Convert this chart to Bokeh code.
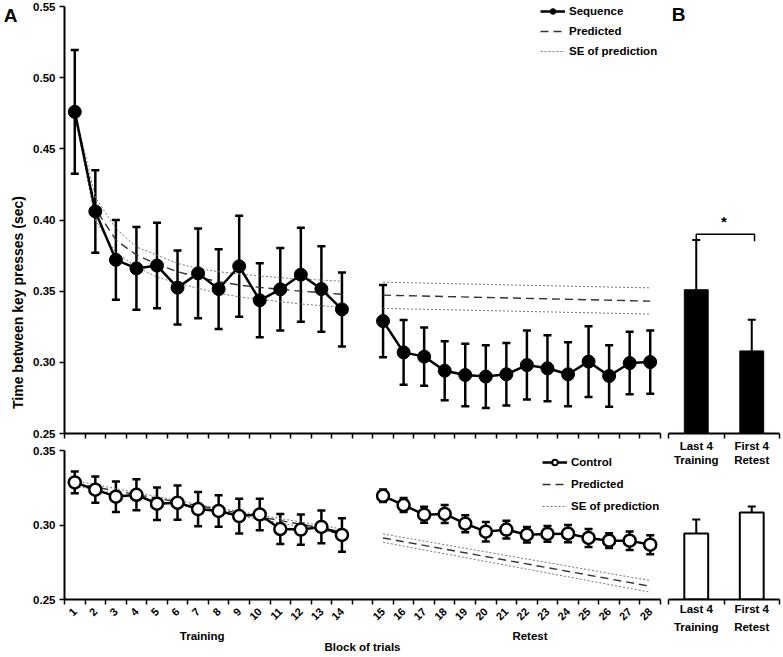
import math
from bokeh.plotting import figure
from bokeh.models import (Range1d, FixedTicker, NumeralTickFormatter, Whisker, TeeHead,
                          ColumnDataSource, Label, Legend, LegendItem, LinearAxis)
from bokeh.layouts import row, column
from bokeh.embed import file_html
from bokeh.resources import INLINE

# ---------------- data ----------------
blocks = list(range(1, 29))
train_blocks = list(range(1, 15))
retest_blocks = list(range(15, 29))

seq_mean = [0.476, 0.406, 0.372, 0.366, 0.368, 0.3525, 0.3625, 0.3515, 0.3675, 0.3436,
            0.3513, 0.3616, 0.3515, 0.3372,
            0.329, 0.307, 0.304, 0.2941, 0.2911, 0.290, 0.2916, 0.2981, 0.2958, 0.2916,
            0.3005, 0.2904, 0.2995, 0.3002]
seq_err = [0.0435, 0.029, 0.028, 0.029, 0.030, 0.026, 0.0315, 0.028, 0.0355, 0.026,
           0.029, 0.033, 0.030, 0.026,
           0.0254, 0.0228, 0.0205, 0.0207, 0.0219, 0.022, 0.0219, 0.0243, 0.0232, 0.0225,
           0.0249, 0.0216, 0.0219, 0.0222]

ctl_mean = [0.3286, 0.3237, 0.319, 0.3203, 0.3143, 0.315, 0.3107, 0.3094, 0.306, 0.3071,
            0.2973, 0.2969, 0.2987, 0.2933,
            0.3196, 0.3134, 0.3069, 0.3074, 0.3009, 0.2955, 0.2969, 0.2935, 0.294, 0.2942,
            0.2913, 0.2895, 0.2895, 0.2868]
ctl_err = [0.0073, 0.0088, 0.0102, 0.0104, 0.0109, 0.0115, 0.0115, 0.0106, 0.0117, 0.0106,
           0.0101, 0.0101, 0.011, 0.0112,
           0.0042, 0.0047, 0.0054, 0.006, 0.0057, 0.0065, 0.006, 0.0052, 0.0053, 0.0058,
           0.006, 0.005, 0.0062, 0.0064]

# Sequence: predicted curve (training) and its SE band
seq_pred_train = [0.476, 0.408, 0.386, 0.3754, 0.369, 0.3637, 0.3597, 0.3567, 0.3543, 0.3527,
                  0.3513, 0.3500, 0.3490, 0.3478]
seq_pred_train_hi = [0.477, 0.416, 0.394, 0.381, 0.3754, 0.3695, 0.366, 0.3637, 0.362, 0.3607,
                     0.3595, 0.3585, 0.3578, 0.357]
seq_pred_train_lo = [0.475, 0.400, 0.377, 0.367, 0.360, 0.3555, 0.352, 0.3485, 0.346, 0.3443,
                     0.3426, 0.341, 0.3398, 0.3387]
# Sequence: predicted (retest) at first and last retest block
seq_pred_ret_blocks = [15, 28]
seq_pred_ret = [0.3472, 0.3430]
seq_pred_ret_hi = [0.3563, 0.3523]
seq_pred_ret_lo = [0.3379, 0.3339]

# Control: predicted line (training)
ctl_pred_tr_blocks = [1, 14]
ctl_pred_tr = [0.3279, 0.2955]
ctl_se_tr_blocks = [1, 7, 14]
ctl_pred_tr_hi = [0.3297, 0.3138, 0.2973]
ctl_pred_tr_lo = [0.3261, 0.3112, 0.2940]
# Control: predicted line (retest)
ctl_pred_ret_blocks = [15, 28]
ctl_pred_ret = [0.2913, 0.2589]
ctl_pred_ret_hi = [0.2940, 0.2627]
ctl_pred_ret_lo = [0.2884, 0.2549]

# Panel B
b_labels_top = ["Last 4", "First 4"]
b_labels_bottom = ["Training", "Retest"]
b_seq = [0.351, 0.308]
b_seq_upper = [0.386, 0.330]
b_ctl = [0.2943, 0.3084]
b_ctl_upper = [0.3037, 0.3124]
bracket_y = [0.385, 0.390, 0.390, 0.385]

top_yticks = [0.25, 0.30, 0.35, 0.40, 0.45, 0.50, 0.55]
bot_yticks = [0.25, 0.30, 0.35]
group_labels = ["Training", "Retest"]
group_centers = [7.2, 23.15]

FONT = "Liberation Sans"


def pos(b):
    # one empty slot between the training and retest blocks
    return b if b <= 14 else b + 1


def make_fig(fw, fh, xr, yr, bl, br, bt, bb, **kw):
    p = figure(frame_width=fw, frame_height=fh, x_range=xr, y_range=yr,
               min_border_left=bl, min_border_right=br, min_border_top=bt, min_border_bottom=bb,
               toolbar_location=None, output_backend="svg", outline_line_color=None,
               background_fill_color="white", border_fill_color="white", **kw)
    p.grid.grid_line_color = None
    return p


def style_yaxis(p, ticks):
    ax = p.yaxis[0]
    ax.ticker = FixedTicker(ticks=ticks)
    ax.formatter = NumeralTickFormatter(format="0.00")
    ax.axis_line_width = 2
    ax.axis_line_color = "black"
    ax.major_tick_out = 5
    ax.major_tick_in = 0
    ax.major_tick_line_width = 1.5
    ax.minor_tick_out = 0
    ax.minor_tick_in = 0
    ax.major_label_text_font = FONT
    ax.major_label_text_font_style = "bold"
    ax.major_label_text_font_size = "11.5px"
    ax.major_label_text_color = "black"
    ax.major_label_standoff = 4


def style_xaxis(ax, major, minor, overrides=None, standoff=0, size="11.5px"):
    ax.ticker = FixedTicker(ticks=major, minor_ticks=minor)
    ax.axis_line_width = 2
    ax.axis_line_color = "black"
    ax.major_tick_out = 0
    ax.major_tick_in = 0
    ax.minor_tick_out = 5
    ax.minor_tick_in = 0
    ax.minor_tick_line_width = 1.5
    ax.minor_tick_line_color = "black"
    ax.major_label_text_font = FONT
    ax.major_label_text_font_style = "bold"
    ax.major_label_text_font_size = size
    ax.major_label_text_color = "black"
    ax.major_label_standoff = standoff
    if overrides:
        ax.major_label_overrides = overrides


def text_axis(p, ticks, labels, standoff, axis_label=None, label_standoff=0):
    ax = LinearAxis(ticker=FixedTicker(ticks=ticks, minor_ticks=[]),
                    major_label_overrides={t: s for t, s in zip(ticks, labels)},
                    axis_line_color=None, major_tick_line_color=None,
                    minor_tick_line_color=None, major_tick_out=0, major_tick_in=0,
                    minor_tick_out=0, minor_tick_in=0,
                    major_label_standoff=standoff,
                    major_label_text_font=FONT, major_label_text_font_style="bold",
                    major_label_text_font_size="11.5px", major_label_text_color="black")
    if axis_label:
        ax.axis_label = axis_label
        ax.axis_label_standoff = label_standoff
        ax.axis_label_text_font = FONT
        ax.axis_label_text_font_style = "bold"
        ax.axis_label_text_font_size = "11.5px"
        ax.axis_label_text_color = "black"
    p.add_layout(ax, "below")
    return ax


# layout geometry (pixels)
FW_A, FW_B = 596, 111
FH_TOP, FH_BOT = 427, 149
FH_B_BOT = 129

# ---------------- left strip: panel letter and y-axis title ----------------
strip = figure(width=26, height=657, x_range=Range1d(0, 26), y_range=Range1d(657, 0),
               x_axis_type=None, y_axis_type=None, toolbar_location=None,
               output_backend="svg", outline_line_color=None,
               min_border_left=0, min_border_right=0, min_border_top=0, min_border_bottom=0)
strip.grid.grid_line_color = None
strip.add_layout(Label(x=10, y=14.5, text="A", text_font=FONT, text_font_style="bold",
                       text_font_size="19px", text_align="center", text_baseline="middle",
                       text_color="black"))
strip.add_layout(Label(x=17, y=302, text="Time between key presses (sec)", angle=math.pi / 2,
                       text_font=FONT, text_font_style="bold", text_font_size="14px",
                       text_align="center", text_baseline="middle", text_color="black"))

# ---------------- Panel A, top (Sequence) ----------------
a_top = make_fig(FW_A, FH_TOP, Range1d(0.5, 29.5), Range1d(0.25, 0.55), 38, 7, 6, 7)
style_yaxis(a_top, top_yticks)
style_xaxis(a_top.xaxis[0], [], [i + 0.5 for i in range(0, 30)])

tr_x = [pos(b) for b in train_blocks]
rt_x = [pos(b) for b in retest_blocks]
n_tr = len(train_blocks)

seq_src = ColumnDataSource(dict(x=[pos(b) for b in blocks], y=seq_mean,
                                upper=[m + e for m, e in zip(seq_mean, seq_err)],
                                lower=[m - e for m, e in zip(seq_mean, seq_err)]))
a_top.add_layout(Whisker(source=seq_src, base="x", upper="upper", lower="lower",
                         line_width=2.5, line_color="black",
                         upper_head=TeeHead(size=8, line_width=2.5, line_color="black"),
                         lower_head=TeeHead(size=8, line_width=2.5, line_color="black")))

pred_tr = a_top.line(tr_x, seq_pred_train, line_color="#333333", line_width=1.4, line_dash="8 5")
se_hi_tr = a_top.line(tr_x, seq_pred_train_hi, line_color="#777777", line_width=1, line_dash="2 2")
a_top.line(tr_x, seq_pred_train_lo, line_color="#777777", line_width=1, line_dash="2 2")
pr_x = [pos(b) for b in seq_pred_ret_blocks]
a_top.line(pr_x, seq_pred_ret, line_color="#333333", line_width=1.4, line_dash="8 5")
a_top.line(pr_x, seq_pred_ret_hi, line_color="#777777", line_width=1, line_dash="2 2")
a_top.line(pr_x, seq_pred_ret_lo, line_color="#777777", line_width=1, line_dash="2 2")

seq_line_tr = a_top.line(tr_x, seq_mean[:n_tr], line_color="black", line_width=2.5)
a_top.line(rt_x, seq_mean[n_tr:], line_color="black", line_width=2.5)
seq_leg_dot = a_top.scatter(tr_x, seq_mean[:n_tr], size=9, marker="circle",
                            fill_color="black", line_color="black")
a_top.scatter([pos(b) for b in blocks], seq_mean, size=13, marker="circle",
              fill_color="black", line_color="black")

leg_top = Legend(items=[LegendItem(label="Sequence", renderers=[seq_line_tr, seq_leg_dot]),
                        LegendItem(label="Predicted", renderers=[pred_tr]),
                        LegendItem(label="SE of prediction", renderers=[se_hi_tr])],
                 location=(476, 375), orientation="vertical", border_line_color=None,
                 background_fill_alpha=0, padding=0, margin=0, spacing=6,
                 glyph_height=14, glyph_width=25, label_height=14, label_standoff=4,
                 label_text_font=FONT, label_text_font_style="bold",
                 label_text_font_size="11.5px", label_text_color="black")
a_top.add_layout(leg_top)

# ---------------- Panel A, bottom (Control) ----------------
a_bot = make_fig(FW_A, FH_BOT, Range1d(0.5, 29.5), Range1d(0.25, 0.35), 38, 7, 10, 58)
style_yaxis(a_bot, bot_yticks)
style_xaxis(a_bot.xaxis[0], [pos(b) for b in blocks], [i + 0.5 for i in range(0, 30)],
            overrides={pos(b): str(b) for b in blocks}, standoff=5, size="11px")
a_bot.xaxis[0].major_label_orientation = math.pi / 4
text_axis(a_bot, group_centers, group_labels, 3, axis_label="Block of trials", label_standoff=-4)

ctl_src = ColumnDataSource(dict(x=[pos(b) for b in blocks], y=ctl_mean,
                                upper=[m + e for m, e in zip(ctl_mean, ctl_err)],
                                lower=[m - e for m, e in zip(ctl_mean, ctl_err)]))
a_bot.add_layout(Whisker(source=ctl_src, base="x", upper="upper", lower="lower",
                         line_width=2.5, line_color="black",
                         upper_head=TeeHead(size=8, line_width=2.5, line_color="black"),
                         lower_head=TeeHead(size=8, line_width=2.5, line_color="black")))

cp_x = [pos(b) for b in ctl_pred_tr_blocks]
cs_x = [pos(b) for b in ctl_se_tr_blocks]
cr_x = [pos(b) for b in ctl_pred_ret_blocks]
cpred = a_bot.line(cp_x, ctl_pred_tr, line_color="#333333", line_width=1.4, line_dash="8 5")
cse = a_bot.line(cs_x, ctl_pred_tr_hi, line_color="#777777", line_width=1, line_dash="2 2")
a_bot.line(cs_x, ctl_pred_tr_lo, line_color="#777777", line_width=1, line_dash="2 2")
a_bot.line(cr_x, ctl_pred_ret, line_color="#333333", line_width=1.4, line_dash="8 5")
a_bot.line(cr_x, ctl_pred_ret_hi, line_color="#777777", line_width=1, line_dash="2 2")
a_bot.line(cr_x, ctl_pred_ret_lo, line_color="#777777", line_width=1, line_dash="2 2")

ctl_line_tr = a_bot.line(tr_x, ctl_mean[:n_tr], line_color="black", line_width=2.5)
a_bot.line(rt_x, ctl_mean[n_tr:], line_color="black", line_width=2.5)
ctl_leg_dot = a_bot.scatter(tr_x, ctl_mean[:n_tr], size=9, marker="circle",
                            fill_color="white", line_color="black", line_width=2)
a_bot.scatter([pos(b) for b in blocks], ctl_mean, size=12, marker="circle",
              fill_color="white", line_color="black", line_width=2.5)

leg_bot = Legend(items=[LegendItem(label="Control", renderers=[ctl_line_tr, ctl_leg_dot]),
                        LegendItem(label="Predicted", renderers=[cpred]),
                        LegendItem(label="SE of prediction", renderers=[cse])],
                 location=(478, 86), orientation="vertical", border_line_color=None,
                 background_fill_alpha=0, padding=0, margin=0, spacing=8,
                 glyph_height=14, glyph_width=25, label_height=14, label_standoff=4,
                 label_text_font=FONT, label_text_font_style="bold",
                 label_text_font_size="11.5px", label_text_color="black")
a_bot.add_layout(leg_bot)

# ---------------- Panel B, top ----------------
b_x = [i + 0.5 for i in range(len(b_seq))]
b_top = make_fig(FW_B, FH_TOP, Range1d(0, 2), Range1d(0.25, 0.55), 1, 4, 6, 37)
b_top.yaxis.visible = False
style_xaxis(b_top.xaxis[0], b_x, [0, 1, 2], overrides=dict(zip(b_x, b_labels_top)), standoff=1)
text_axis(b_top, b_x, b_labels_bottom, -1)

bsrc = ColumnDataSource(dict(x=b_x, top=b_seq, upper=b_seq_upper))
b_top.add_layout(Whisker(source=bsrc, base="x", upper="upper", lower="top",
                         line_width=2, line_color="black",
                         upper_head=TeeHead(size=8, line_width=2, line_color="black"),
                         lower_head=None))
b_top.vbar(x="x", top="top", bottom=0.25, width=0.43, source=bsrc,
           fill_color="black", line_color="black")
bracket_x = [b_x[0], b_x[0], b_x[1] + 0.05, b_x[1] + 0.05]
b_top.line(bracket_x, bracket_y, line_color="black", line_width=1.5)
b_top.add_layout(Label(x=1.0, y=bracket_y[1], y_offset=13, text="*", text_font=FONT,
                       text_font_style="bold", text_font_size="15px", text_align="center",
                       text_baseline="middle", text_color="black"))
b_top.add_layout(Label(x=0, y=0.55, x_offset=10, y_offset=-8, text="B", text_font=FONT,
                       text_font_style="bold", text_font_size="19px", text_align="center",
                       text_baseline="middle", text_color="black"))

# ---------------- Panel B, bottom ----------------
b_bot_top = 0.25 + (0.35 - 0.25) * FH_B_BOT / FH_BOT
b_bot = make_fig(FW_B, FH_B_BOT, Range1d(0, 2), Range1d(0.25, b_bot_top), 1, 4, 0, 58)
b_bot.yaxis.visible = False
style_xaxis(b_bot.xaxis[0], b_x, [0, 1, 2], overrides=dict(zip(b_x, b_labels_top)), standoff=-2)
text_axis(b_bot, b_x, b_labels_bottom, 3)

bsrc2 = ColumnDataSource(dict(x=b_x, top=b_ctl, upper=b_ctl_upper))
b_bot.add_layout(Whisker(source=bsrc2, base="x", upper="upper", lower="top",
                         line_width=2, line_color="black",
                         upper_head=TeeHead(size=8, line_width=2, line_color="black"),
                         lower_head=None))
b_bot.vbar(x="x", top="top", bottom=0.25, width=0.43, source=bsrc2,
           fill_color="white", line_color="black", line_width=2)

page = row(strip, column(a_top, a_bot), column(b_top, b_bot))

open("out.html", "w").write(file_html(page, INLINE))
